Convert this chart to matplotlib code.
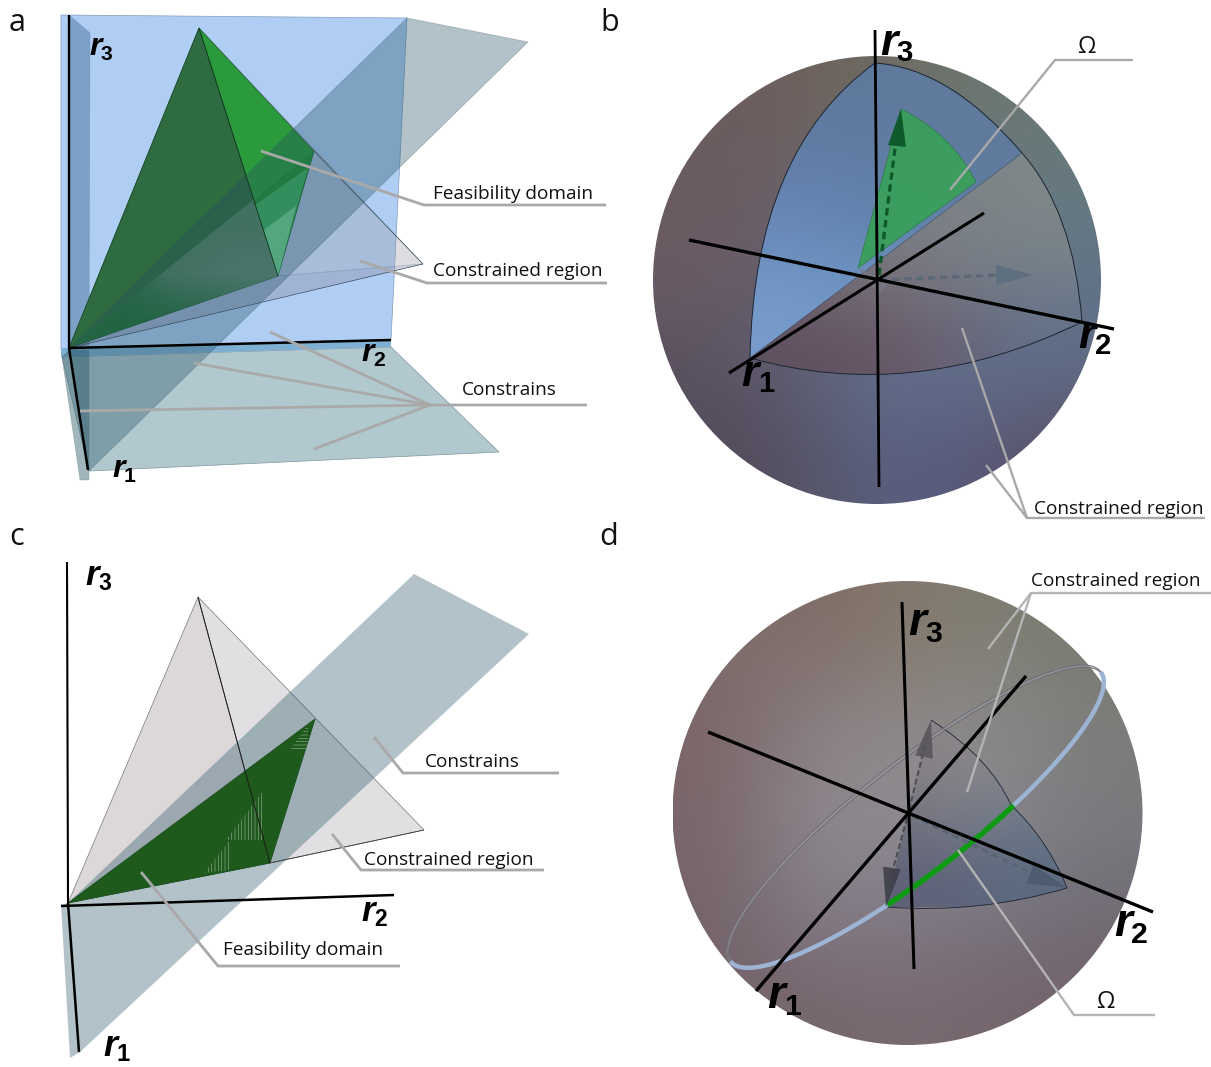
import numpy as np
import matplotlib
matplotlib.use('Agg')
import matplotlib.pyplot as plt
from matplotlib.colors import to_rgba
from matplotlib.patches import Polygon, Ellipse, PathPatch
from matplotlib.path import Path

plt.rcParams['hatch.linewidth'] = 0.45

TEXT_FONT = 'Open Sans'
LEADER = '#a9a9a9'
PLANE = (35 / 255, 81 / 255, 98 / 255)

# panel a, pixel positions
A_ORIGIN = (69, 348)
A_APEX = (199, 28)
A_RIGHT = (314, 151)
A_BOTTOM = (278, 276)
A_FAR = (423, 264)
A_WALL = [(61, 15), (407, 18), (391, 340), (61, 350)]
A_WALL_STRIP = [(61, 348), (391, 339), (391, 347), (61, 357)]
A_SIDE_UP = [(69, 15), (90, 33), (89, 348), (69, 350)]
A_SIDE_LOW = [(62, 357), (69, 350), (89, 350), (89, 480), (80, 480)]
A_FLOOR = [(62, 357), (391, 347), (499, 452), (89, 471)]
A_DIAGONAL = [(407, 18), (528, 42), (89, 471), (69, 348)]
A_LOWER_EDGE = (260, 302)
A_MOIRE = [(69, 348), (253, 200), (278, 276), (203, 302)]
A_MOIRE_BOX = (69, 278, 348, 200)
A_MOIRE_SHADE = [['#5f7f7c00', '#5f7f7c00', '#4f8f6c40'],
                 ['#5f7f7c00', '#6f8f80a0', '#6f8f80d0'],
                 ['#5f7f7c30', '#6f8f80a0', '#6f8f80a0']]
A_PALE = [(255, 205), (308, 168), (278, 276)]
A_PALER = [(264, 230), (296, 206), (278, 276)]
A_LEADERS = [[(261, 151), (424, 205), (606, 205)],
             [(360, 261), (427, 283), (607, 283)],
             [(270, 332), (430, 405)], [(194, 363), (430, 405)],
             [(314, 449), (430, 405)], [(80, 411), (430, 405), (587, 405)]]

# panel b
B_CENTER = (877, 280)
B_RADII = (224, 224)
B_AXES = [[(875, 30), (879, 487)], [(689, 240), (1114, 329)], [(984, 213), (729, 373)]]
B_TOP = (875, 63)
B_LEFT = (750, 358)
B_CUT = (1022, 153)
B_RIGHT = (1082, 322)
B_LEFT_CTRL = (754, 150)
B_TOP_CTRL = (950, 68)
B_CUT_CTRL = (1074, 212)
B_BOTTOM_CTRL = (914, 404)
B_GREEN = [(901, 109), (952, 134), (976, 182)]
B_GREEN_END = (858, 268)
B_LEADERS = [[(950, 190), (1055, 60), (1133, 60)],
             [(962, 328), (1027, 518), (1205, 518)],
             [(986, 465), (1027, 518)]]
B_SHADE = [['#6a5c5e', '#6f5f5c', '#6e6a60', '#6d7670', '#6a7a74'],
           ['#6b5a5e', '#6a6068', '#66707c', '#667480', '#667a80'],
           ['#6a5c66', '#665e6c', '#646a84', '#666e84', '#627488'],
           ['#58505e', '#5e5c72', '#63708c', '#62708c', '#5f6c88'],
           ['#54485a', '#54505f', '#5a6080', '#57587a', '#5c4f62']]
B_BLUE_BOX = (750, 1022, 63, 358)
B_BLUE_SHADE = [['#60789c', '#5f7a9c', '#5f7a9c'],
                ['#6585b4', '#5f80ac', '#5f7a9c'],
                ['#789dcc', '#6f96c4', '#6f96c4']]
B_GREY_BOX = (750, 1082, 153, 375)
B_GREY_SHADE = [['#7a8088', '#7a8088', '#808888'],
                ['#786e78', '#7c7c84', '#76828a'],
                ['#5e4f5f', '#6a5a68', '#60708c']]

# panel c
C_ORIGIN = (68, 903)
C_APEX = (198, 597)
C_RIGHT = (315, 719)
C_BOTTOM = (270, 863)
C_FAR = (424, 830)
C_DIAGONAL = [(414, 574), (529, 634), (80, 1052), (68, 903)]
C_FLAP = [(61, 905), (70, 1058), (80, 1052), (68, 903)]
C_AXES = [[(67, 562), (68, 903)], [(61, 906), (394, 895)], [(68, 903), (79, 1052)]]
C_HATCH = [[(226, 840), (264, 790), (264, 840)], [(204, 873), (230, 840), (230, 870)]]
C_HATCH_TOP = [(290, 750), (308, 725), (308, 750)]
C_LEADERS = [[(374, 737), (403, 773), (559, 773)],
             [(332, 834), (361, 870), (544, 870)],
             [(141, 872), (218, 966), (400, 966)]]

# panel d
D_CENTER = (907.5, 813)
D_RADII = (235, 232)
D_AXES = [[(902, 602), (914, 969)], [(708, 732), (1153, 912)], [(1026, 676), (756, 991)]]
D_APEX = (931, 720)
D_RING_POINT = (1011, 805)
D_CORNER = (1067, 888)
D_LOW = (886, 907)
D_HUB = (908, 813)
RING_CENTER = (915, 816)
RING_AXES = (235, 55)
RING_ANGLE = -38
RING_GREEN_DEG = (69, 110)
D_LEADERS = [[(988, 649), (1031, 593), (1211, 593)],
             [(967, 792), (1031, 593)],
             [(958, 850), (1074, 1015), (1155, 1015)]]
D_SHADE = [['#7f6f6c', '#7f6a66', '#857a6c', '#7d7d72', '#7b7b72'],
           ['#7c6668', '#8a8184', '#8e8889', '#8a8a8a', '#7b7b78'],
           ['#7a666a', '#8f8a90', '#918c92', '#86868c', '#7b7c80'],
           ['#75636a', '#86808a', '#807c88', '#787782', '#716c76'],
           ['#74626a', '#75656c', '#7a6a72', '#75646c', '#72626a']]
D_WEDGE_BOX = (886, 1067, 720, 907)
D_WEDGE_SHADE = [['#8a8488', '#8c8688', '#8a8a90'],
                 ['#787880', '#7a7e8a', '#6f7a8a'],
                 ['#5e6078', '#5d667c', '#5a6a80']]

CAPTIONS = [('Feasibility domain', 433, 199), ('Constrained region', 433, 276),
            ('Constrains', 462, 395), ('Constrained region', 1034, 514),
            ('Constrains', 425, 767), ('Constrained region', 364, 865),
            ('Feasibility domain', 223, 955), ('Constrained region', 1031, 586)]
OMEGAS = [(1086, 53), (1105, 1008)]
PANELS = [('a', 9, 31), ('b', 600, 31), ('c', 9, 545), ('d', 599, 545)]
# number, x, y, size
R_LABELS = [('3', 89, 55, 23), ('2', 361, 361, 23), ('1', 112, 477, 23),
            ('3', 880, 55, 32), ('2', 1078, 348, 32), ('1', 741, 386, 32),
            ('3', 85, 585, 25), ('2', 361, 921, 25), ('1', 103, 1056, 26),
            ('3', 908, 635, 33), ('2', 1114, 936, 33), ('1', 767, 1008, 33)]

fig = plt.figure(figsize=(12.11, 10.67), dpi=100)
ax = fig.add_axes([0, 0, 1, 1])
ax.set_xlim(0, 1211)
ax.set_ylim(1067, 0)
ax.set_autoscale_on(False)
ax.axis('off')


def poly(pts, color, alpha=1.0, edge='none', lw=0.0, z=None):
    p = Polygon(pts, closed=True, facecolor=color, alpha=alpha, edgecolor=edge, linewidth=lw)
    if z is not None:
        p.set_zorder(z)
    ax.add_patch(p)
    return p


def line(pts, color='black', lw=1.0, ls='-', z=5):
    xs = [p[0] for p in pts]
    ys = [p[1] for p in pts]
    ax.plot(xs, ys, color=color, lw=lw, ls=ls, zorder=z, solid_capstyle='butt',
            solid_joinstyle='miter')


def shaded(clip_patch, grid, box, z, interp='bicubic'):
    # small colour grid stretched over box and clipped to a shape
    rgba = np.array([[to_rgba(c) for c in row] for row in grid])
    clip_patch.set_facecolor('none')
    clip_patch.set_edgecolor('none')
    ax.add_patch(clip_patch)
    im = ax.imshow(rgba, extent=(box[0], box[1], box[3], box[2]), interpolation=interp,
                   zorder=z, aspect='auto')
    im.set_clip_path(clip_patch)


def sphere(center, radii, shade):
    box = (center[0] - radii[0], center[0] + radii[0], center[1] - radii[1], center[1] + radii[1])
    shaded(Ellipse(center, 2 * radii[0], 2 * radii[1]), shade, box, 1)


def curved(start, *segments):
    # segments are (control, end) pairs of quadratic curves
    verts = [start]
    codes = [Path.MOVETO]
    for ctrl, end in segments:
        verts += [ctrl, end]
        codes += [Path.CURVE3, Path.CURVE3]
    return verts, codes


def close(verts, codes):
    verts.append(verts[0])
    codes.append(Path.CLOSEPOLY)
    return Path(verts, codes)


def arrow_head(tip, back, width, color, alpha=1.0, z=4):
    tip = np.array(tip, float)
    back = np.array(back, float)
    d = tip - back
    n = np.array([-d[1], d[0]]) / np.hypot(*d) * width
    poly([tip, back + n, back - n], color, alpha=alpha, z=z)


# ---------- panel a ----------
poly(A_WALL, '#b0cef4', edge='#7f9cbc', lw=0.5, z=1)
poly(A_FLOOR, '#b2c8cf', edge='#7d949c', lw=0.5, z=1)
poly(A_WALL_STRIP, '#7fb0d4', z=1.1)
poly(A_SIDE_UP, '#3f6a94', alpha=0.45, edge='#5a7890', lw=0.4, z=1.2)
poly(A_SIDE_LOW, '#2f5f6c', alpha=0.45, edge='#5a7880', lw=0.4, z=1.2)
# grey constrained region
poly([A_APEX, A_FAR, A_BOTTOM], '#9a9aa6', alpha=0.32, edge='#40505f', lw=0.5, z=2)
poly([A_ORIGIN, A_BOTTOM, A_FAR, A_LOWER_EDGE], '#8a8fa8', alpha=0.42, z=2)
# green faces of the cone
poly([A_ORIGIN, A_APEX, A_BOTTOM], '#2e6b40', edge='#1d4f2c', lw=0.5, z=2.2)
poly([A_APEX, A_RIGHT, A_BOTTOM], '#2b9a3d', edge='#1d5a2c', lw=0.5, z=2.2)
poly([A_ORIGIN, A_RIGHT, A_BOTTOM], '#0a7a18', alpha=0.3, z=2.25)
shaded(Polygon(A_MOIRE, closed=True), A_MOIRE_SHADE, A_MOIRE_BOX, 2.3, interp='bilinear')
poly(A_PALE, '#60d890', alpha=0.45, z=2.35)
poly(A_PALER, '#90eeb0', alpha=0.6, z=2.36)
poly(A_DIAGONAL, PLANE, alpha=0.35, edge='#33505f', lw=0.5, z=2.5)
line([A_RIGHT, A_FAR], '#3a4a58', 0.5, z=2.7)
line([A_ORIGIN, A_FAR], '#34465a', 0.5, z=2.7)
line([A_ORIGIN, A_APEX], '#1d4f2c', 0.5, z=2.7)
line([A_APEX, A_BOTTOM], '#12381f', 0.6, z=2.7)
line([(69, 15), A_ORIGIN], 'black', 1.7, z=3)
line([A_ORIGIN, (391, 340)], 'black', 1.8, z=3)
line([A_ORIGIN, (88, 470)], 'black', 1.8, z=3)

# ---------- panel b ----------
sphere(B_CENTER, B_RADII, B_SHADE)
v, c = curved(B_TOP, (B_TOP_CTRL, B_CUT))
v.append(B_LEFT)
c.append(Path.LINETO)
v += [B_LEFT_CTRL, B_TOP]
c += [Path.CURVE3, Path.CURVE3]
shaded(PathPatch(close(v, c)), B_BLUE_SHADE, B_BLUE_BOX, 2)
v, c = curved(B_CUT, (B_CUT_CTRL, B_RIGHT), (B_BOTTOM_CTRL, B_LEFT))
shaded(PathPatch(close(v, c)), B_GREY_SHADE, B_GREY_BOX, 2)
v, c = curved(B_GREEN[0], (B_GREEN[1], B_GREEN[2]))
v.append(B_GREEN_END)
c.append(Path.LINETO)
ax.add_patch(PathPatch(close(v, c), facecolor='#3a9f5c', alpha=0.95, edgecolor='#2b7a45',
                       linewidth=0.5, zorder=2.2))
v, c = curved(B_TOP, (B_LEFT_CTRL, B_LEFT), (B_BOTTOM_CTRL, B_RIGHT), (B_CUT_CTRL, B_CUT),
              (B_TOP_CTRL, B_TOP))
ax.add_patch(PathPatch(Path(v, c), facecolor='none', edgecolor='#1c2430', linewidth=0.7, zorder=2.4))
line([B_CUT, B_LEFT], '#40506a', 0.4, z=2.4)
# vectors
line([(879, 275), (896, 140)], '#0e5a2a', 2.4, ls=(0, (2.2, 1.4)), z=3)
arrow_head((901, 109), (897, 146), 9, '#0e5a2a', z=3)
line([(880, 280), (1003, 275)], '#5c6878', 2.4, ls=(0, (2.2, 1.4)), z=3)
arrow_head((1033, 275), (996, 275), 10, '#5c6e80', alpha=0.9, z=3)
arrow_head((858, 268), (884, 288), 8, '#7a7a84', alpha=0.8, z=3)
for seg, w in zip(B_AXES, [2.0, 2.4, 2.2]):
    line(seg, 'black', w, z=4)

# ---------- panel c ----------
poly([C_ORIGIN, C_APEX, C_BOTTOM], '#dcd8da', edge='#77777a', lw=0.5, z=1)
poly([C_APEX, C_FAR, C_BOTTOM], '#e0e0e2', edge='#77777a', lw=0.5, z=1)
poly(C_DIAGONAL, PLANE, alpha=0.35, z=2)
poly(C_FLAP, PLANE, alpha=0.35, z=2)
poly([C_ORIGIN, C_RIGHT, C_BOTTOM], '#1d5a1c', edge='#1a4f1c', lw=0.6, z=3)
for tri, pattern in zip(C_HATCH + [C_HATCH_TOP], ['|||||', '|||||', '-----']):
    ax.add_patch(Polygon(tri, closed=True, facecolor='none', edgecolor='#8fa890', hatch=pattern,
                         linewidth=0, zorder=3.1))
line([C_APEX, C_BOTTOM], '#1a1a1a', 0.7, z=3.2)
line([C_BOTTOM, C_FAR], '#3a3a3a', 0.6, z=3.2)
for seg, w in zip(C_AXES, [1.5, 1.8, 1.8]):
    line(seg, 'black', w, z=4)

# ---------- panel d ----------
sphere(D_CENTER, D_RADII, D_SHADE)
v, c = curved(D_APEX, ((990, 758), D_RING_POINT), ((1048, 840), D_CORNER), ((980, 914), D_LOW))
v.append(D_HUB)
c.append(Path.LINETO)
shaded(PathPatch(close(v, c)), D_WEDGE_SHADE, D_WEDGE_BOX, 2)
v, c = curved(D_APEX, ((990, 758), D_RING_POINT), ((1048, 840), D_CORNER), ((980, 914), D_LOW))
ax.add_patch(PathPatch(Path(v, c), facecolor='none', edgecolor='#1c2430', linewidth=0.6, zorder=2.3))

a_rad = np.radians(RING_ANGLE)
u = np.array([np.cos(a_rad), np.sin(a_rad)])
n = np.array([-np.sin(a_rad), np.cos(a_rad)])


def ring(deg_from, deg_to, shift=0.0):
    tt = np.radians(np.arange(deg_from, deg_to + 1, 2))
    xs = RING_CENTER[0] + RING_AXES[0] * np.cos(tt) * u[0] + (RING_AXES[1] * np.sin(tt) + shift) * n[0]
    ys = RING_CENTER[1] + RING_AXES[0] * np.cos(tt) * u[1] + (RING_AXES[1] * np.sin(tt) + shift) * n[1]
    return xs, ys


xs, ys = ring(180, 360, 1.5)
ax.plot(xs, ys, color='#a09ea8', lw=2.0, alpha=0.5, zorder=2.5)
for shift in (0, 3):
    xs, ys = ring(180, 360, shift)
    ax.plot(xs, ys, color='#6a6a74', lw=0.6, zorder=2.5)
xs, ys = ring(0, 180, 1.0)
ax.plot(xs, ys, color='#9db4d4', lw=3.2, zorder=2.5, solid_capstyle='butt')
xs, ys = ring(RING_GREEN_DEG[0], RING_GREEN_DEG[1], 1.0)
ax.plot(xs, ys, color='#0f9a14', lw=4.0, zorder=2.6, solid_capstyle='butt')

line([(909, 810), (925, 745)], '#4a4a50', 1.4, ls=(0, (3, 1.5)), z=2.7)
line([(907, 818), (890, 880)], '#4a4a50', 1.4, ls=(0, (3, 1.5)), z=2.7)
line([(912, 816), (1030, 872)], '#5a6472', 2.0, ls=(0, (2.5, 1.5)), z=2.7)
arrow_head(D_APEX, (924, 757), 9, '#55525a', alpha=0.85, z=2.8)
arrow_head(D_LOW, (892, 868), 9, '#3f3f4a', alpha=0.9, z=2.8)
arrow_head(D_CORNER, (1030, 874), 10, '#4c5a70', alpha=0.85, z=2.8)
for seg, w in zip(D_AXES, [2.2, 2.4, 2.4]):
    line(seg, 'black', w, z=4)

# ---------- leaders and text ----------
for group, w in ((A_LEADERS, 2.0), (B_LEADERS, 1.7), (C_LEADERS, 2.0), (D_LEADERS, 1.7)):
    for seg in group:
        line(seg, LEADER if group is not D_LEADERS else '#b4b4b4', w, z=6)

for s, x, y in CAPTIONS:
    ax.text(x, y, s, family=TEXT_FONT, fontsize=13.7, color='#111111', ha='left', va='baseline', zorder=7)
for x, y in OMEGAS:
    ax.text(x, y, '\u03a9', family=TEXT_FONT, fontsize=17, color='#111111', ha='center', va='baseline', zorder=7)
for s, x, y in PANELS:
    ax.text(x, y, s, family=TEXT_FONT, fontsize=22, color='#111111', ha='left', va='baseline', zorder=7)
for num, x, y, size in R_LABELS:
    ax.text(x, y, 'r', family='Liberation Sans', style='italic', weight='bold', fontsize=size,
            color='black', ha='left', va='baseline', zorder=7)
    ax.text(x + size * 0.52, y + size * 0.2, num, family='Liberation Sans', weight='bold',
            fontsize=size * 0.66, color='black', ha='left', va='baseline', zorder=7)

fig.savefig('out.png', dpi=100, facecolor='white')
